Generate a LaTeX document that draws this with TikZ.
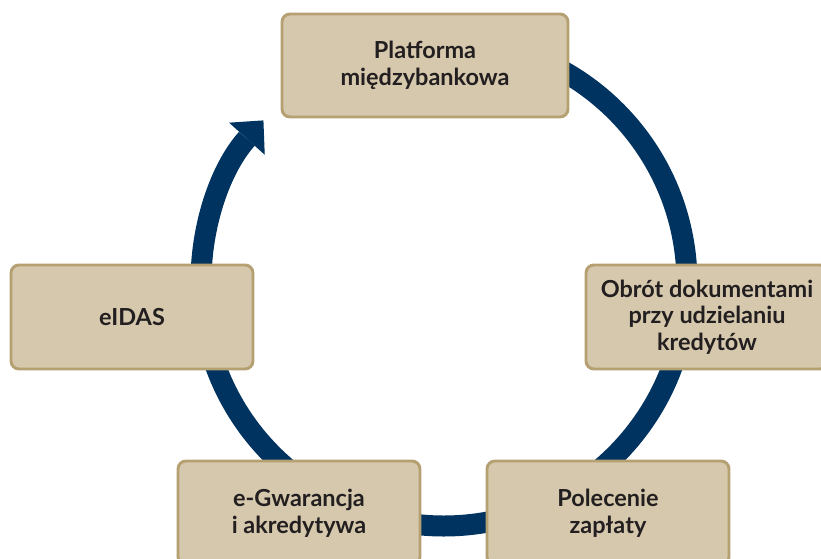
\documentclass[tikz,border=0pt]{standalone}
\usepackage{fontspec}
\setmainfont{Lato}[UprightFont=* Bold]
\usetikzlibrary{arrows.meta}

\definecolor{boxfill}{HTML}{D5C8AC}
\definecolor{boxline}{HTML}{B5A072}
\definecolor{ringblue}{HTML}{00335F}
\definecolor{txt}{HTML}{231F20}

\begin{document}
\begin{tikzpicture}[
  x=0.75pt, y=0.75pt,
  blk/.style={draw=boxline, fill=boxfill, line width=2.2pt, rectangle, rounded corners=6pt,
               minimum width=242*0.75pt, minimum height=104*0.75pt,
               align=center, text=txt, font=\fontsize{17.6pt}{20pt}\selectfont, inner sep=3pt},
  ring/.style={draw=ringblue, line width=15.75pt,
               -{Triangle[length=18.5pt, width=36pt, line width=0pt]}}
]
\useasboundingbox (0,0) rectangle (821,559);
\begin{scope}
\clip (0,0) rectangle (821,559);
% cykl
\draw[ring] (444,276) ++(95:243) arc[start angle=95, end angle=-222, radius=243];
\node[blk, minimum width=286*0.75pt, minimum height=103*0.75pt] (plat) at (425,493.5) {Platforma\\międzybankowa};
\node[blk] (obrot) at (707,242) {Obrót dokumentami\\przy udzielaniu\\kredytów};
\node[blk] (polec) at (608,46) {Polecenie\\zapłaty};
\node[blk] (gwar)  at (299,46) {e-Gwarancja\\i akredytywa};
\node[blk] (eidas) at (132,242) {eIDAS};
\end{scope}
\end{tikzpicture}
\end{document}
